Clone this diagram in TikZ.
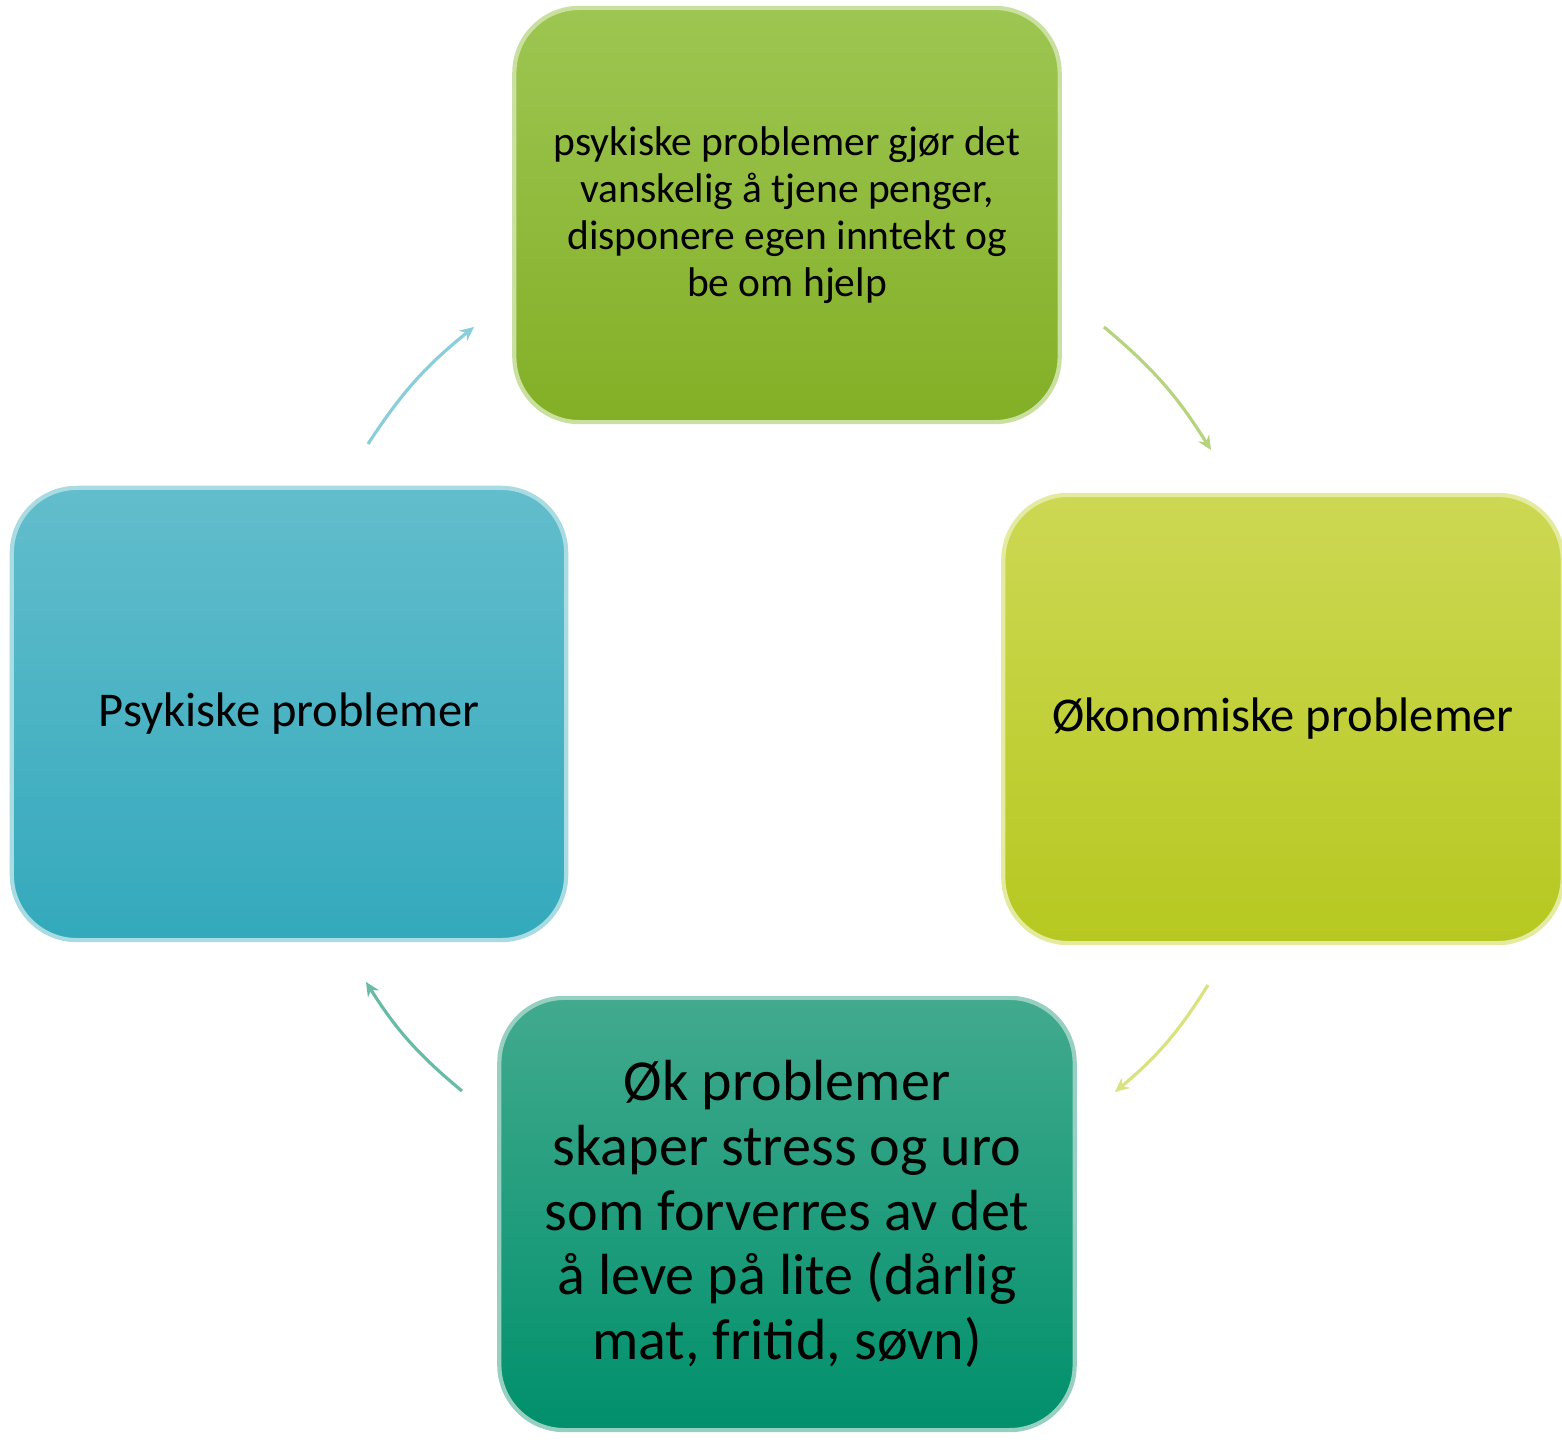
\documentclass[tikz,border=0pt]{standalone}
\usepackage{fontspec}
\setmainfont{Carlito}
\usetikzlibrary{arrows.meta,positioning}

\definecolor{grassTop}{HTML}{9DC652}
\definecolor{grassBot}{HTML}{83AF26}
\definecolor{limeTop}{HTML}{CDD853}
\definecolor{limeBot}{HTML}{B6C820}
\definecolor{tealTop}{HTML}{42AA8E}
\definecolor{tealBot}{HTML}{00906B}
\definecolor{skyTop}{HTML}{62BDCC}
\definecolor{skyBot}{HTML}{34A9BC}

\begin{document}
\begin{tikzpicture}[
  x=0.01cm, y=-0.01cm,
  box/.style={
    rounded corners=6.5mm,
    line width=1.2pt,
    align=center,
    text=black,
    inner sep=4pt,
  },
  arr/.style={
    -{Stealth[length=1.4mm,width=1.3mm]},
    line width=0.9pt,
  },
]
\useasboundingbox (0,0) rectangle (1562,1440);

% Boxes
\node[box, draw=grassTop!55!white, top color=grassTop, bottom color=grassBot,
      minimum width=5.45cm, minimum height=4.14cm,
      font=\fontsize{11.8}{13.4}\selectfont] (money) at (787,215)
  {psykiske problemer gjør det\\vanskelig å tjene penger,\\disponere egen inntekt og\\be om hjelp};

\node[box, draw=limeTop!55!white, top color=limeTop, bottom color=limeBot,
      minimum width=5.59cm, minimum height=4.48cm,
      font=\fontsize{13.8}{16}\selectfont] (econ) at (1283,719)
  {Økonomiske problemer};

\node[box, draw=tealTop!55!white, top color=tealTop, bottom color=tealBot,
      minimum width=5.75cm, minimum height=4.32cm,
      font=\fontsize{16.5}{18.4}\selectfont] (stress) at (787,1214)
  {Øk problemer\\skaper stress og uro\\som forverres av det\\å leve på lite (dårlig\\mat, fritid, søvn)};

\node[box, draw=skyTop!55!white, top color=skyTop, bottom color=skyBot,
      minimum width=5.54cm, minimum height=4.52cm,
      font=\fontsize{13.8}{16}\selectfont] (psyk) at (289,714)
  {Psykiske problemer};

% Arrow ends
\coordinate (a1s) at (368,444);
\coordinate (a1e) at (474,327);
\coordinate (a2s) at (1104,327);
\coordinate (a2e) at (1211,450);
\coordinate (a3s) at (1208,985);
\coordinate (a3e) at (1115,1092);
\coordinate (a4s) at (462,1091);
\coordinate (a4e) at (366,982);

% Arrows
\draw[arr, skyTop!75!white]   (a1s) to[bend left=9] (a1e);
\draw[arr, grassTop!75!white] (a2s) to[bend left=9] (a2e);
\draw[arr, limeTop!75!white]  (a3s) to[bend left=9] (a3e);
\draw[arr, tealTop!80!white]  (a4s) to[bend left=9] (a4e);

\end{tikzpicture}
\end{document}
